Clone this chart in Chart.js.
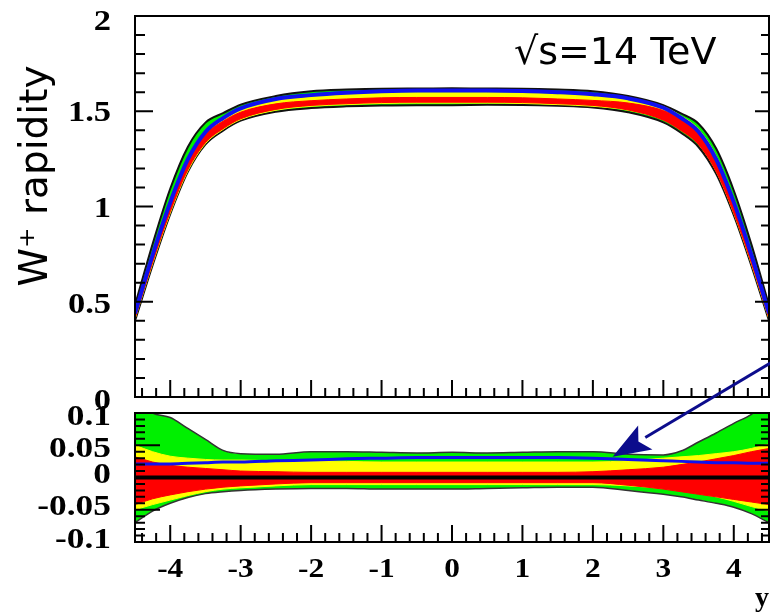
<!DOCTYPE html>
<html>
<head>
<meta charset="utf-8">
<script src="https://cdn.jsdelivr.net/npm/chart.js@4"></script>
<style>
  body { margin: 0; background: #fff; }
  #wrap { position: relative; width: 770px; height: 613px; overflow: hidden; }
  canvas { position: absolute; left: 0; top: 0; }
  #ratio { pointer-events: none; }
</style>
</head>
<body>
<div id="wrap">
  <canvas id="main" width="770" height="613"></canvas>
  <canvas id="ratio" width="770" height="613"></canvas>
</div>
<script>
// rapidity points
const rap = [-4.5, -4.25, -4, -3.75, -3.5, -3.25, -3, -2.5, -2, -1.5, -1, -0.5, 0,
             0.5, 1, 1.5, 2, 2.5, 3, 3.25, 3.5, 3.75, 4, 4.25, 4.5]
// central prediction (top panel)
const central = [0.43, 0.73, 1.0, 1.22, 1.36, 1.43, 1.48, 1.525, 1.543, 1.552, 1.558, 1.56, 1.56,
                 1.56, 1.558, 1.552, 1.543, 1.525, 1.48, 1.43, 1.36, 1.22, 1.0, 0.73, 0.43]
// relative bands (bottom panel)
const greenHi = [0.12, 0.1, 0.093, 0.076, 0.059, 0.042, 0.037, 0.036, 0.04, 0.04, 0.039, 0.038, 0.039,
                 0.038, 0.039, 0.04, 0.04, 0.036, 0.035, 0.041, 0.055, 0.069, 0.084, 0.098, 0.12]
const greenLo = [-0.07, -0.052, -0.04, -0.031, -0.025, -0.022, -0.02, -0.018, -0.017, -0.017, -0.018, -0.018, -0.018,
                 -0.017, -0.016, -0.015, -0.015, -0.02, -0.026, -0.03, -0.035, -0.04, -0.046, -0.056, -0.07]
const yellowHi = [0.05, 0.04, 0.033, 0.03, 0.028, 0.027, 0.027, 0.026, 0.026, 0.025, 0.024, 0.024, 0.024,
                  0.024, 0.024, 0.024, 0.024, 0.026, 0.03, 0.032, 0.034, 0.037, 0.04, 0.045, 0.052]
const yellowLo = [-0.05, -0.042, -0.035, -0.028, -0.022, -0.018, -0.016, -0.013, -0.011, -0.011, -0.011, -0.011, -0.011,
                  -0.011, -0.011, -0.011, -0.011, -0.013, -0.017, -0.021, -0.025, -0.03, -0.037, -0.045, -0.052]
const redHi = [0.032, 0.024, 0.019, 0.016, 0.014, 0.012, 0.01, 0.009, 0.008, 0.008, 0.008, 0.008, 0.008,
               0.008, 0.008, 0.008, 0.009, 0.012, 0.016, 0.02, 0.024, 0.029, 0.034, 0.04, 0.045]
const redLo = [-0.042, -0.033, -0.027, -0.022, -0.018, -0.015, -0.013, -0.01, -0.008, -0.008, -0.008, -0.008, -0.008,
               -0.008, -0.008, -0.008, -0.008, -0.012, -0.018, -0.022, -0.026, -0.03, -0.034, -0.038, -0.042]
const blueRel = [0.021, 0.021, 0.021, 0.022, 0.023, 0.024, 0.024, 0.026, 0.027, 0.029, 0.03, 0.031, 0.031,
                 0.031, 0.031, 0.031, 0.03, 0.028, 0.026, 0.025, 0.024, 0.023, 0.023, 0.022, 0.022]

const xTicks = [-4, -3, -2, -1, 0, 1, 2, 3, 4]
const topTicks = ['0', '0.5', '1', '1.5', '2']
const botTicks = ['-0.1', '-0.05', '0', '0.05', '0.1']

const pts = arr => rap.map((x, i) => ({x, y: arr[i]}))
const abs = rel => rap.map((x, i) => ({x, y: central[i] * (1 + rel[i])}))

const GREEN = '#00f000', YELLOW = '#ffff00', RED = '#ff0000', BLUE = '#1010f0'
const serif = s => `bold ${s}px "Liberation Serif", "Times New Roman", serif`

function band(lo, hi, color, border, bw, order) {
  return [
    {data: lo, borderColor: border, borderWidth: bw, backgroundColor: color, pointRadius: 0, fill: false, order},
    {data: hi, borderColor: border, borderWidth: bw, backgroundColor: color, pointRadius: 0, fill: '-1', order}
  ]
}

// text squeezed/stretched sideways, like the original labels
function stretched(ctx, t, x, y, sx) {
  ctx.save()
  ctx.translate(x, y)
  ctx.scale(sx, 1)
  ctx.fillText(t, 0, 0)
  ctx.restore()
}

// frame, inward ticks and labels, placed through the chart's scales
function axesPlugin(o) {
  return {
    id: 'frame',
    afterDraw(chart) {
      const ctx = chart.ctx, a = chart.chartArea
      const xs = chart.scales.x, ys = chart.scales.y
      ctx.save()
      ctx.strokeStyle = '#000'
      ctx.lineWidth = 2
      ctx.strokeRect(a.left, a.top, a.right - a.left, a.bottom - a.top)
      ctx.beginPath()
      // x ticks (bottom)
      for (let v = -4.4; v <= 4.41; v += 0.2) {
        const px = xs.getPixelForValue(v)
        const major = Math.abs(v - Math.round(v)) < 1e-6
        const len = major ? 17 : 9
        ctx.moveTo(px, a.bottom); ctx.lineTo(px, a.bottom - len)
      }
      // y ticks (left and right)
      const n = Math.round((o.ymax - o.ymin) / o.minor)
      for (let i = 0; i <= n; i++) {
        const v = o.ymin + i * o.minor
        const py = ys.getPixelForValue(v)
        const major = i % o.every === 0
        const len = major ? o.majorLen : 10
        ctx.moveTo(a.left, py); ctx.lineTo(a.left + len, py)
        ctx.moveTo(a.right, py); ctx.lineTo(a.right - (major ? 14 : 8), py)
      }
      ctx.stroke()
      ctx.fillStyle = '#000'
      ctx.font = serif(o.ySize)
      ctx.textAlign = 'right'
      ctx.textBaseline = 'alphabetic'
      o.labels.forEach((t, i) => {
        stretched(ctx, t, 111, ys.getPixelForValue(parseFloat(t)) + o.shift[i], o.sx)
      })
      if (o.xLabels) {
        ctx.font = serif(28)
        ctx.textAlign = 'center'
        xTicks.forEach(v => stretched(ctx, String(v), xs.getPixelForValue(v), 577, 1.12))
        ctx.textAlign = 'left'
        ctx.fillText('y', 755, 606)
      }
      ctx.restore()
    }
  }
}

const textPlugin = {
  id: 'texts',
  afterDraw(chart) {
    const ctx = chart.ctx
    ctx.save()
    ctx.fillStyle = '#000'
    ctx.font = '38px "DejaVu Sans", sans-serif'
    ctx.textBaseline = 'alphabetic'
    ctx.fillText('\u221As=14 TeV', 514, 64)
    ctx.translate(47, 176)
    ctx.rotate(-Math.PI / 2)
    ctx.textAlign = 'center'
    ctx.font = '39px "DejaVu Sans", sans-serif'
    ctx.fillText('W\u207A rapidity', 0, 0)
    ctx.restore()
  }
}

const arrowPlugin = {
  id: 'arrow',
  afterDraw(chart) {
    const ctx = chart.ctx, xs = chart.scales.x, ys = chart.scales.y
    const x0 = xs.getPixelForValue(4.53), y0 = ys.getPixelForValue(0.178)
    const x1 = xs.getPixelForValue(2.28), y1 = ys.getPixelForValue(0.032)
    const dx = x0 - x1, dy = y0 - y1, l = Math.hypot(dx, dy)
    const ux = dx / l, uy = dy / l
    const bx = x1 + ux * 38, by = y1 + uy * 38
    ctx.save()
    ctx.strokeStyle = ctx.fillStyle = '#0c0c8c'
    ctx.lineWidth = 3
    ctx.beginPath(); ctx.moveTo(x0, y0); ctx.lineTo(bx, by); ctx.stroke()
    ctx.beginPath()
    ctx.moveTo(x1, y1)
    ctx.lineTo(bx - uy * 14, by + ux * 14)
    ctx.lineTo(x1 + ux * 30, y1 + uy * 30)
    ctx.lineTo(bx + uy * 14, by - ux * 14)
    ctx.closePath(); ctx.fill()
    ctx.restore()
  }
}

const xScale = {type: 'linear', min: -4.5, max: 4.5, display: false}
const common = {
  responsive: false,
  animation: false,
  events: [],
  plugins: {legend: {display: false}, tooltip: {enabled: false}},
  elements: {line: {cubicInterpolationMode: 'monotone'}}
}

new Chart(document.getElementById('main'), {
  type: 'line',
  data: {
    datasets: [
      {data: abs(blueRel), borderColor: BLUE, borderWidth: 4, pointRadius: 0, fill: false, order: 1},
      ...band(abs(redLo), abs(redHi), RED, RED, 1, 2),
      ...band(abs(yellowLo), abs(yellowHi), YELLOW, YELLOW, 1, 3),
      ...band(abs(greenLo), abs(greenHi), GREEN, '#111', 2, 4)
    ]
  },
  options: {
    ...common,
    layout: {padding: {left: 135, right: 1, top: 16, bottom: 216}},
    scales: {x: xScale, y: {type: 'linear', min: 0, max: 2, display: false}}
  },
  plugins: [axesPlugin({ymin: 0, ymax: 2, minor: 0.1, every: 5, majorLen: 18, ySize: 30, sx: 1.15,
                        shift: [12, 11, 10, 10, 14], labels: topTicks}), textPlugin]
})

new Chart(document.getElementById('ratio'), {
  type: 'line',
  data: {
    datasets: [
      {data: pts(rap.map(() => 0)), borderColor: '#000', borderWidth: 4, pointRadius: 0, fill: false, order: 0},
      {data: pts(blueRel), borderColor: BLUE, borderWidth: 3, pointRadius: 0, fill: false, order: 1},
      ...band(pts(redLo), pts(redHi), RED, RED, 1, 2),
      ...band(pts(yellowLo), pts(yellowHi), YELLOW, YELLOW, 1, 3),
      ...band(pts(greenLo), pts(greenHi), GREEN, '#333', 1.5, 4)
    ]
  },
  options: {
    ...common,
    layout: {padding: {left: 135, right: 1, top: 413, bottom: 71}},
    scales: {x: xScale, y: {type: 'linear', min: -0.1, max: 0.1, display: false}}
  },
  plugins: [axesPlugin({ymin: -0.1, ymax: 0.1, minor: 0.01, every: 5, majorLen: 25, ySize: 29, sx: 1.22,
                        shift: [6, 5, 5, 12, 12], labels: botTicks, xLabels: true}), arrowPlugin]
})
</script>
</body>
</html>
